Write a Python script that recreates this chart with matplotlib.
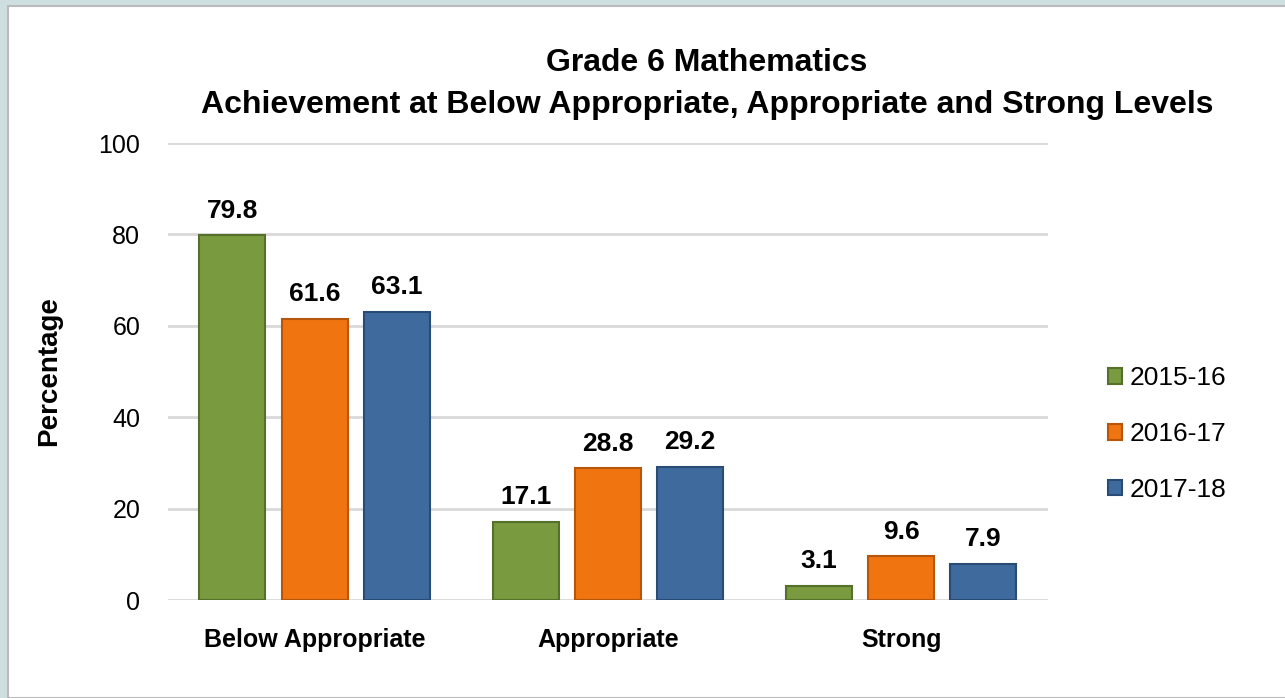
import matplotlib.pyplot as plt
import numpy as np
from matplotlib.patches import Rectangle

categories = ['Below Appropriate', 'Appropriate', 'Strong']
years = ['2015-16', '2016-17', '2017-18']
vals_2015 = [79.8, 17.1, 3.1]
vals_2016 = [61.6, 28.8, 9.6]
vals_2017 = [63.1, 29.2, 7.9]
colors = ['#7A9A3F', '#F07511', '#3E6A9E']
edges = ['#55702A', '#B5560A', '#2A4B73']

plt.rcParams['font.family'] = ['Liberation Sans', 'DejaVu Sans']

fig = plt.figure(figsize=(12.85, 6.98), dpi=100)
fig.patch.set_facecolor('#CFDEE0')
# white panel inside the light frame
fig.patches.append(Rectangle((8 / 1285, 0), 1, 1 - 6 / 698, transform=fig.transFigure,
                             facecolor='white', edgecolor='#BBBBBB', lw=1.5, zorder=-5))

ax = fig.add_axes([0.1307, 0.1404, 0.6848, 0.6546])
ax.set_zorder(2)
ax.set_facecolor('white')

x = np.arange(len(categories))
w = 0.225
off = 0.28
series = [vals_2015, vals_2016, vals_2017]
for i, vals in enumerate(series):
    bars = ax.bar(x + (i - 1) * off, vals, w, color=colors[i], edgecolor=edges[i],
                  linewidth=1.5, label=years[i], zorder=3)
    for b, v in zip(bars, vals):
        ax.annotate(f'{v:.1f}', (b.get_x() + b.get_width() / 2, v), xytext=(0, 9),
                    textcoords='offset points', ha='center', va='bottom',
                    fontsize=19, fontweight='bold')

ax.set_xlim(-0.5, 2.5)
ax.set_ylim(0, 100)
ax.set_yticks([0, 20, 40, 60, 80, 100])
ax.grid(axis='y', color='#D9D9D9', linewidth=2, zorder=0)
for s in ax.spines.values():
    s.set_visible(False)
ax.tick_params(length=0)
ax.tick_params(axis='y', labelsize=18, pad=20)
ax.set_xticks(x)
ax.set_xticklabels(categories, fontsize=18, fontweight='bold')
ax.tick_params(axis='x', pad=20)
ax.set_ylabel('Percentage', fontsize=20, fontweight='bold', labelpad=26)

fig.text(0.55, 0.91, 'Grade 6 Mathematics', ha='center', va='center',
         fontsize=23, fontweight='bold')
fig.text(0.55, 0.849, 'Achievement at Below Appropriate, Appropriate and Strong Levels',
         ha='center', va='center', fontsize=23, fontweight='bold')

fig.legend(loc='center left', bbox_to_anchor=(0.8435, 0.378), frameon=False,
           fontsize=19, handlelength=0.55, handleheight=0.55, handletextpad=0.3,
           labelspacing=1.2)

fig.savefig('out.png', dpi=100, facecolor=fig.get_facecolor())
